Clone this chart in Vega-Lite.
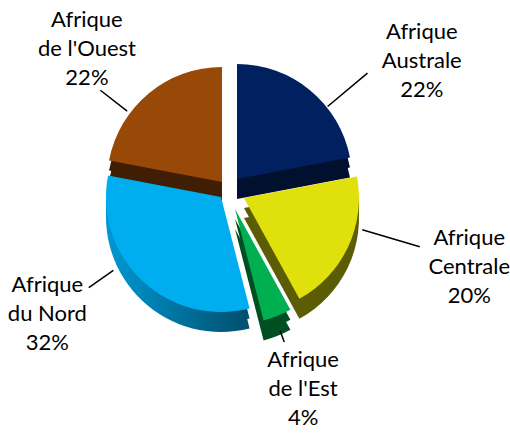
{
  "$schema": "https://vega.github.io/schema/vega-lite/v6.json",
  "width": 456,
  "height": 380,
  "autosize": "none",
  "padding": {"left": 0, "top": 0, "right": 54, "bottom": 59},
  "background": "white",
  "view": {"stroke": null},
  "data": {
    "values": [
      {"region": "Afrique Australe", "value": 22, "label": "Afrique\nAustrale\n22%"},
      {"region": "Afrique Centrale", "value": 20, "label": "Afrique\nCentrale\n20%"},
      {"region": "Afrique de l'Est", "value": 4, "label": "Afrique\nde l'Est\n4%"},
      {"region": "Afrique du Nord", "value": 32, "label": "Afrique\ndu Nord\n32%"},
      {"region": "Afrique de l'Ouest", "value": 22, "label": "Afrique\nde l'Ouest\n22%"}
    ]
  },
  "transform": [{"stack": "value", "groupby": [], "as": ["v0", "v1"]}],
  "layer": [
    {"transform": [{"filter": {"field": "region", "equal": "Afrique de l'Ouest"}}],
     "mark": {"type": "arc", "radius": 115, "xOffset": -6, "yOffset": 12, "color": "#3f1e04"},
     "encoding": {"theta": {"field": "v0", "type": "quantitative", "scale": {"domain": [0, 100]}}, "theta2": {"field": "v1"}}},
    {"transform": [{"filter": {"field": "region", "equal": "Afrique de l'Ouest"}}],
     "mark": {"type": "arc", "radius": 115, "xOffset": -6, "yOffset": 2, "color": "#3f1e04"},
     "encoding": {"theta": {"field": "v0", "type": "quantitative", "scale": {"domain": [0, 100]}}, "theta2": {"field": "v1"}}},
    {"transform": [{"filter": {"field": "region", "equal": "Afrique de l'Ouest"}}],
     "mark": {"type": "arc", "radius": 115, "xOffset": -6, "yOffset": -8, "color": "#984807"},
     "encoding": {"theta": {"field": "v0", "type": "quantitative", "scale": {"domain": [0, 100]}}, "theta2": {"field": "v1"}}},

    {"transform": [{"filter": {"field": "region", "equal": "Afrique Australe"}}],
     "mark": {"type": "arc", "radius": 115, "xOffset": 9, "yOffset": 9, "color": "#00102e"},
     "encoding": {"theta": {"field": "v0", "type": "quantitative", "scale": {"domain": [0, 100]}}, "theta2": {"field": "v1"}}},
    {"transform": [{"filter": {"field": "region", "equal": "Afrique Australe"}}],
     "mark": {"type": "arc", "radius": 115, "xOffset": 9, "yOffset": -1, "color": "#00102e"},
     "encoding": {"theta": {"field": "v0", "type": "quantitative", "scale": {"domain": [0, 100]}}, "theta2": {"field": "v1"}}},
    {"transform": [{"filter": {"field": "region", "equal": "Afrique Australe"}}],
     "mark": {"type": "arc", "radius": 115, "xOffset": 9, "yOffset": -11, "color": "#002060"},
     "encoding": {"theta": {"field": "v0", "type": "quantitative", "scale": {"domain": [0, 100]}}, "theta2": {"field": "v1"}}},

    {"transform": [{"filter": {"field": "region", "equal": "Afrique Centrale"}}],
     "mark": {"type": "arc", "radius": 115, "xOffset": 16, "yOffset": 28, "color": "#5c5c04"},
     "encoding": {"theta": {"field": "v0", "type": "quantitative", "scale": {"domain": [0, 100]}}, "theta2": {"field": "v1"}}},
    {"transform": [{"filter": {"field": "region", "equal": "Afrique Centrale"}}],
     "mark": {"type": "arc", "radius": 115, "xOffset": 16, "yOffset": 18, "color": "#5c5c04"},
     "encoding": {"theta": {"field": "v0", "type": "quantitative", "scale": {"domain": [0, 100]}}, "theta2": {"field": "v1"}}},
    {"transform": [{"filter": {"field": "region", "equal": "Afrique Centrale"}}],
     "mark": {"type": "arc", "radius": 115, "xOffset": 16, "yOffset": 8, "color": "#e0e00c"},
     "encoding": {"theta": {"field": "v0", "type": "quantitative", "scale": {"domain": [0, 100]}}, "theta2": {"field": "v1"}}},

    {"transform": [{"filter": {"field": "region", "equal": "Afrique du Nord"}}],
     "mark": {"type": "arc", "radius": 115, "xOffset": -7, "yOffset": 27, "color": {"gradient": "linear", "x1": 0, "y1": 0, "x2": 1, "y2": 0, "stops": [{"offset": 0, "color": "#0098d4"}, {"offset": 1, "color": "#004f6c"}]}},
     "encoding": {"theta": {"field": "v0", "type": "quantitative", "scale": {"domain": [0, 100]}}, "theta2": {"field": "v1"}}},
    {"transform": [{"filter": {"field": "region", "equal": "Afrique du Nord"}}],
     "mark": {"type": "arc", "radius": 115, "xOffset": -7, "yOffset": 17, "color": {"gradient": "linear", "x1": 0, "y1": 0, "x2": 1, "y2": 0, "stops": [{"offset": 0, "color": "#0098d4"}, {"offset": 1, "color": "#004f6c"}]}},
     "encoding": {"theta": {"field": "v0", "type": "quantitative", "scale": {"domain": [0, 100]}}, "theta2": {"field": "v1"}}},
    {"transform": [{"filter": {"field": "region", "equal": "Afrique du Nord"}}],
     "mark": {"type": "arc", "radius": 115, "xOffset": -7, "yOffset": 7, "color": "#00aeef"},
     "encoding": {"theta": {"field": "v0", "type": "quantitative", "scale": {"domain": [0, 100]}}, "theta2": {"field": "v1"}}},

    {"transform": [{"filter": {"field": "region", "equal": "Afrique de l'Est"}}],
     "mark": {"type": "arc", "radius": 115, "xOffset": 7, "yOffset": 39, "color": "#004f22"},
     "encoding": {"theta": {"field": "v0", "type": "quantitative", "scale": {"domain": [0, 100]}}, "theta2": {"field": "v1"}}},
    {"transform": [{"filter": {"field": "region", "equal": "Afrique de l'Est"}}],
     "mark": {"type": "arc", "radius": 115, "xOffset": 7, "yOffset": 29, "color": "#004f22"},
     "encoding": {"theta": {"field": "v0", "type": "quantitative", "scale": {"domain": [0, 100]}}, "theta2": {"field": "v1"}}},
    {"transform": [{"filter": {"field": "region", "equal": "Afrique de l'Est"}}],
     "mark": {"type": "arc", "radius": 115, "xOffset": 7, "yOffset": 19, "color": "#00b050"},
     "encoding": {"theta": {"field": "v0", "type": "quantitative", "scale": {"domain": [0, 100]}}, "theta2": {"field": "v1"}}},

    {"transform": [{"filter": {"field": "region", "equal": "Afrique Australe"}}],
     "mark": {"type": "arc", "radius": 182, "radius2": 130, "thetaOffset": 0.873, "theta2Offset": 0.873, "filled": false, "color": "black", "strokeWidth": 1.5},
     "encoding": {"theta": {"field": "v0", "type": "quantitative", "scale": {"domain": [0, 100]}}, "theta2": {"field": "v0"}}},
    {"transform": [{"filter": {"field": "region", "equal": "Afrique Centrale"}}],
     "mark": {"type": "arc", "radius": 200, "radius2": 140, "thetaOffset": 0.476, "theta2Offset": 0.476, "filled": false, "color": "black", "strokeWidth": 1.5},
     "encoding": {"theta": {"field": "v0", "type": "quantitative", "scale": {"domain": [0, 100]}}, "theta2": {"field": "v0"}}},
    {"transform": [{"filter": {"field": "region", "equal": "Afrique de l'Est"}}],
     "mark": {"type": "arc", "radius": 162, "radius2": 150, "thetaOffset": 0.148, "theta2Offset": 0.148, "filled": false, "color": "black", "strokeWidth": 1.5},
     "encoding": {"theta": {"field": "v0", "type": "quantitative", "scale": {"domain": [0, 100]}}, "theta2": {"field": "v0"}}},
    {"transform": [{"filter": {"field": "region", "equal": "Afrique du Nord"}}],
     "mark": {"type": "arc", "radius": 170, "radius2": 140, "thetaOffset": 1.211, "theta2Offset": 1.211, "filled": false, "color": "black", "strokeWidth": 1.5},
     "encoding": {"theta": {"field": "v0", "type": "quantitative", "scale": {"domain": [0, 100]}}, "theta2": {"field": "v0"}}},
    {"transform": [{"filter": {"field": "region", "equal": "Afrique de l'Ouest"}}],
     "mark": {"type": "arc", "radius": 162, "radius2": 128, "thetaOffset": 0.475, "theta2Offset": 0.475, "filled": false, "color": "black", "strokeWidth": 1.5},
     "encoding": {"theta": {"field": "v0", "type": "quantitative", "scale": {"domain": [0, 100]}}, "theta2": {"field": "v0"}}},

    {"transform": [{"filter": {"field": "region", "equal": "Afrique Australe"}}],
     "mark": {"type": "text", "radius": 250, "thetaOffset": 0.887, "lineBreak": "\n", "lineHeight": 29, "font": "Lato", "fontSize": 22, "color": "black", "align": "center", "baseline": "middle"},
     "encoding": {"theta": {"field": "v0", "type": "quantitative", "scale": {"domain": [0, 100]}}, "text": {"field": "label"}}},
    {"transform": [{"filter": {"field": "region", "equal": "Afrique Centrale"}}],
     "mark": {"type": "text", "radius": 246, "thetaOffset": 0.385, "lineBreak": "\n", "lineHeight": 29, "font": "Lato", "fontSize": 22, "color": "black", "align": "center", "baseline": "middle"},
     "encoding": {"theta": {"field": "v0", "type": "quantitative", "scale": {"domain": [0, 100]}}, "text": {"field": "label"}}},
    {"transform": [{"filter": {"field": "region", "equal": "Afrique de l'Est"}}],
     "mark": {"type": "text", "radius": 186, "thetaOffset": 0.087, "lineBreak": "\n", "lineHeight": 29, "font": "Lato", "fontSize": 22, "color": "black", "align": "center", "baseline": "middle"},
     "encoding": {"theta": {"field": "v0", "type": "quantitative", "scale": {"domain": [0, 100]}}, "text": {"field": "label"}}},
    {"transform": [{"filter": {"field": "region", "equal": "Afrique du Nord"}}],
     "mark": {"type": "text", "radius": 204, "thetaOffset": 1.339, "lineBreak": "\n", "lineHeight": 29, "font": "Lato", "fontSize": 22, "color": "black", "align": "center", "baseline": "middle"},
     "encoding": {"theta": {"field": "v0", "type": "quantitative", "scale": {"domain": [0, 100]}}, "text": {"field": "label"}}},
    {"transform": [{"filter": {"field": "region", "equal": "Afrique de l'Ouest"}}],
     "mark": {"type": "text", "radius": 221, "thetaOffset": 0.690, "lineBreak": "\n", "lineHeight": 29, "font": "Lato", "fontSize": 22, "color": "black", "align": "center", "baseline": "middle"},
     "encoding": {"theta": {"field": "v0", "type": "quantitative", "scale": {"domain": [0, 100]}}, "text": {"field": "label"}}}
  ]
}
